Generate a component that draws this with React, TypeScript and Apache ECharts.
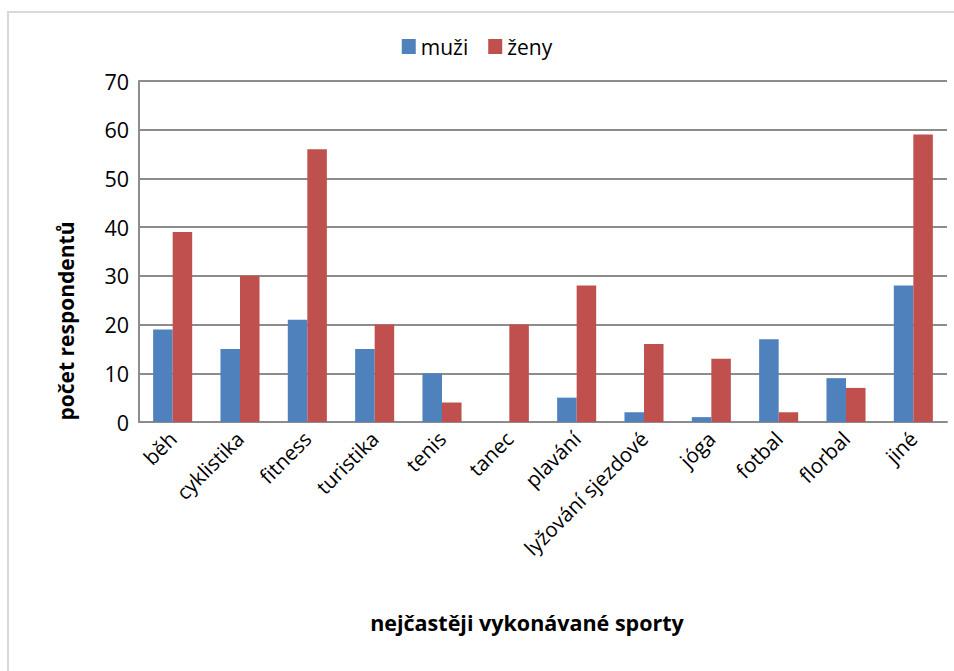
import React, { useEffect, useRef } from "react";
import * as echarts from "echarts";

const categories = ["běh", "cyklistika", "fitness", "turistika", "tenis", "tanec", "plavání", "lyžování sjezdové", "jóga", "fotbal", "florbal", "jiné"];
const muzi = [19, 15, 21, 15, 10, 0, 5, 2, 1, 17, 9, 28];
const zeny = [39, 30, 56, 20, 4, 20, 28, 16, 13, 2, 7, 59];
const yTicks = [0, 10, 20, 30, 40, 50, 60, 70];

const FONT = "'Open Sans', 'Noto Sans', sans-serif";

export default function App() {
  const ref = useRef<HTMLDivElement>(null);
  useEffect(() => {
    if (!ref.current) return;
    const chart = echarts.init(ref.current, undefined, { renderer: "svg" });
    chart.setOption({
      animation: false,
      backgroundColor: "#ffffff",
      textStyle: { fontFamily: FONT },
      legend: {
        top: 31,
        left: "center",
        itemWidth: 14,
        itemHeight: 15,
        itemGap: 20,
        icon: "rect",
        textStyle: { fontSize: 21, color: "#000", fontFamily: FONT },
        data: ["muži", "ženy"],
      },
      grid: { left: 139, right: 7, top: 81, bottom: 249, containLabel: false },
      xAxis: {
        type: "category",
        data: categories,
        axisLine: { lineStyle: { color: "#8c8c8c", width: 2 } },
        axisTick: { show: false },
        axisLabel: { rotate: 45, fontSize: 20.5, color: "#000", fontFamily: FONT, margin: 13, interval: 0 },
      },
      yAxis: {
        type: "value",
        min: 0,
        max: 70,
        interval: 10,
        axisLine: { show: true, lineStyle: { color: "#8c8c8c", width: 2 } },
        axisTick: { show: false },
        axisLabel: {
          fontSize: 21.5,
          color: "#000",
          fontFamily: FONT,
          margin: 10,
          formatter: (v: number) => (yTicks.includes(v) ? String(v) : ""),
        },
        splitLine: { lineStyle: { color: "#8c8c8c", width: 2 } },
      },
      series: [
        {
          name: "muži",
          type: "bar",
          data: muzi,
          barGap: "0%",
          barCategoryGap: "42%",
          itemStyle: { color: "#4F81BD" },
        },
        {
          name: "ženy",
          type: "bar",
          data: zeny,
          barGap: "0%",
          barCategoryGap: "42%",
          itemStyle: { color: "#C0504D" },
        },
      ],
      graphic: [
        { type: "line", shape: { x1: 7, y1: 12, x2: 954, y2: 12 }, style: { stroke: "#d9d9d9", lineWidth: 2 } },
        { type: "line", shape: { x1: 8, y1: 12, x2: 8, y2: 671 }, style: { stroke: "#d9d9d9", lineWidth: 2 } },
        {
          type: "text",
          x: 527,
          y: 622,
          style: {
            text: "nejčastěji vykonávané sporty",
            fontSize: 21.5,
            fontWeight: "bold",
            fontFamily: FONT,
            fill: "#000",
            textAlign: "center",
            textVerticalAlign: "middle",
          },
        },
        {
          type: "text",
          x: 66,
          y: 321,
          rotation: Math.PI / 2,
          style: {
            text: "počet respondentů",
            fontSize: 21,
            fontWeight: "bold",
            fontFamily: FONT,
            fill: "#000",
            textAlign: "center",
            textVerticalAlign: "middle",
          },
        },
      ],
    });
    return () => chart.dispose();
  }, []);
  return <div ref={ref} style={{ position: "fixed", left: 0, top: 0, width: 954, height: 671 }} />;
}
